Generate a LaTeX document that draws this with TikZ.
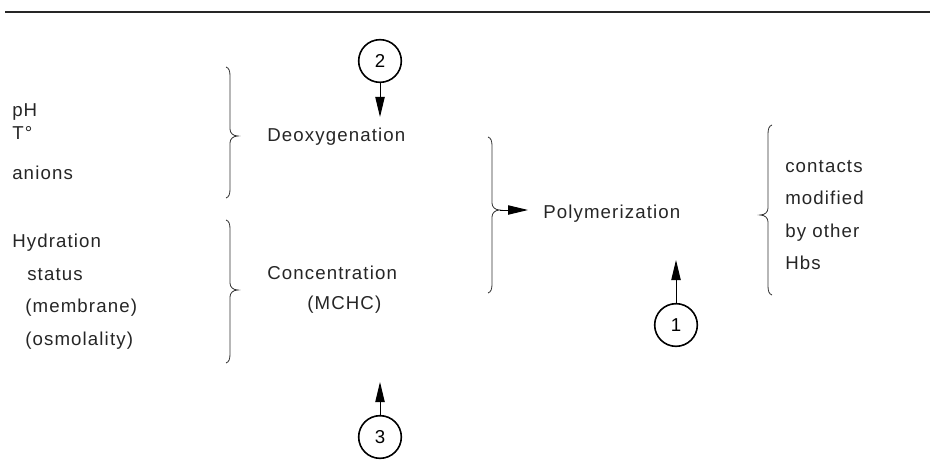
\documentclass[tikz,border=0pt]{standalone}
\usepackage{fontspec}
\setmainfont[LetterSpace=6]{Liberation Sans}
\usetikzlibrary{arrows.meta}
\newcommand{\BrR}[4]{% x, top, bottom, tip y ; tip points right
  \draw[bracestyle] ({#1-4},{#2}) .. controls ({#1-1},{#2+1}) and ({#1},{#2+4}) .. ({#1},{#2+9})
    -- ({#1},{#4-7}) .. controls ({#1},{#4-3}) and ({#1+3},{#4}) .. ({#1+8},{#4})
    .. controls ({#1+3},{#4}) and ({#1},{#4+3}) .. ({#1},{#4+7})
    -- ({#1},{#3-9}) .. controls ({#1},{#3-4}) and ({#1-1},{#3-1}) .. ({#1-4},{#3});}
\newcommand{\BrL}[4]{% x, top, bottom, tip y ; tip points left
  \draw[bracestyle] ({#1+4},{#2}) .. controls ({#1+1},{#2+1}) and ({#1},{#2+4}) .. ({#1},{#2+9})
    -- ({#1},{#4-7}) .. controls ({#1},{#4-3}) and ({#1-3},{#4}) .. ({#1-8},{#4})
    .. controls ({#1-3},{#4}) and ({#1},{#4+3}) .. ({#1},{#4+7})
    -- ({#1},{#3-9}) .. controls ({#1},{#3-4}) and ({#1+1},{#3-1}) .. ({#1+4},{#3});}
\begin{document}
\begin{tikzpicture}[x=0.75pt,y=-0.75pt,
  txt/.style={anchor=base west,inner sep=0pt,font=\fontsize{14}{16}\selectfont,text=black!85},
  num/.style={circle,draw,line width=1.2pt,minimum size=32pt,inner sep=0pt,font=\fontsize{14}{16}\selectfont},
  bracestyle/.style={line width=0.6pt,black!80},
  arr/.style={line width=0.75pt,-{Triangle[length=15pt,width=7pt]}}]
\useasboundingbox (0,0) rectangle (930,474);
\fill[white] (0,0) rectangle (930,474);
\draw[line width=1.5pt,black!85] (5,12) -- (930,12);
% left column
\node[txt] (ph) at (12,117) {pH};
\node[txt] (t) at (12,140) {T°};
\node[txt] (an) at (12,179) {anions};
\node[txt] (hy) at (12,247) {Hydration};
\node[txt] (st) at (27,280) {status};
\node[txt] (me) at (25,312) {(membrane)};
\node[txt] (os) at (25,345) {(osmolality)};
% braces
\BrR{230}{67}{198}{136}
\BrR{230}{220}{363}{290}
\BrR{492}{137}{293}{210}
\BrL{768}{125}{295}{215}
% middle
\node[txt] (deox) at (267,142) {Deoxygenation};
\node[txt] (conc) at (267,279) {Concentration};
\node[txt] (mchc) at (307,309) {(MCHC)};
\node[txt] (poly) at (543,218) {Polymerization};
% right
\node[txt] (c1) at (785,172) {contacts};
\node[txt] (c2) at (785,204) {modified};
\node[txt] (c3) at (785,237) {by other};
\node[txt] (c4) at (785,269) {Hbs};
% circles
\node[num] (n2) at (380,61) {2};
\node[num] (n3) at (380,437) {3};
\node[num] (n1) at (676,325) {1};
\coordinate (a2) at (380,117);
\coordinate (a3) at (380,382);
\coordinate (a1) at (676,260);
\coordinate (bt) at (500,210);
\coordinate (pt) at (528,210);
\draw[arr] (n2.south) -- (a2);
\draw[arr] (n3.north) -- (a3);
\draw[arr] (n1.north) -- (a1);
\draw[arr] (bt) -- (pt);
\end{tikzpicture}
\end{document}
